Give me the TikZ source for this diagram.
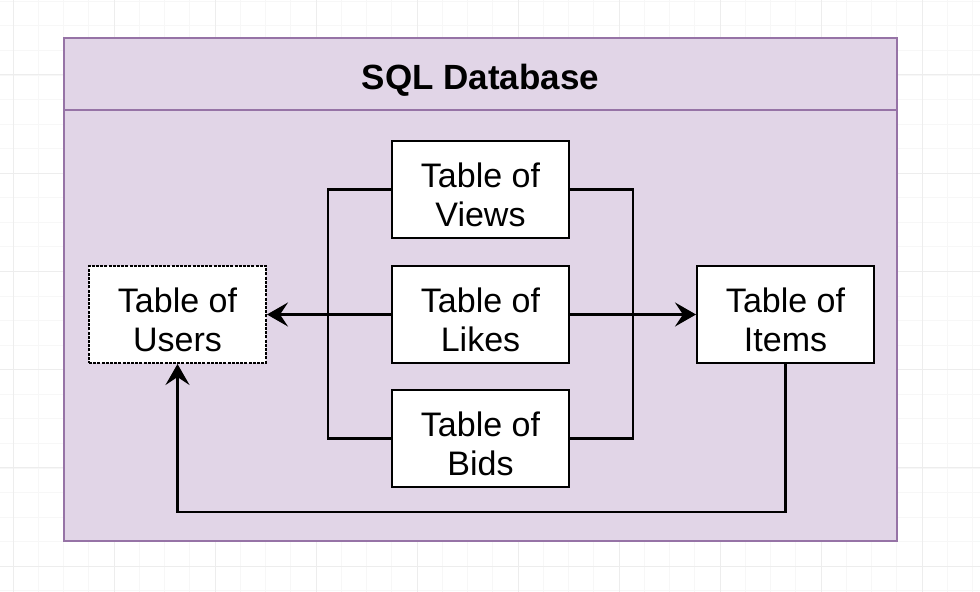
\documentclass[tikz,border=0pt]{standalone}
\usepackage{fontspec}
\setmainfont{Liberation Sans}
\usetikzlibrary{
  positioning,
  arrows.meta
}
\definecolor{dbfill}{HTML}{E1D5E7}
\definecolor{dbline}{HTML}{9673A6}
% first line gets a taller strut so the two lines sit a bit low, as in the drawing
\newcommand{\tableof}[1]{\rule{0pt}{17.5pt}Table of\\#1}

\begin{document}
\begin{tikzpicture}[x=0.5pt,y=-0.5pt]
  \tikzset{
    dbbox/.style = {
      draw=dbline, fill=dbfill, line width=1.1pt,
      minimum width=416.5pt, minimum height=251.5pt, inner sep=0pt
    },
    tablebox/.style = {
      draw, fill=white, line width=1pt, align=center,
      minimum width=88.5pt, minimum height=48.5pt, inner sep=0pt,
      font=\fontsize{17}{19.2}\selectfont
    },
    link/.style = {line width=1.2pt},
    tip/.style = {-{Stealth[length=10.5pt,width=12pt,inset=4pt]}},
    gridminor/.style = {black!3, line width=0.4pt},
    gridmajor/.style = {black!7, line width=0.5pt},
  }
  \useasboundingbox (0,0) rectangle (980,592);

  % faint canvas grid behind everything
  \foreach \i in {0,...,38}
  \draw[gridminor] (13+25.25*\i,0) -- ++(0,592);
  \foreach \i in {0,...,24}
  \draw[gridminor] (0,1.3+24.56*\i) -- ++(980,0);
  \foreach \i in {0,...,9}
  \draw[gridmajor] (13+101*\i,0) -- ++(0,592);
  \foreach \i in {0,...,5}
  \draw[gridmajor] (0,75+98.25*\i) -- ++(980,0);

  % container with its header band
  \node[dbbox] (db) at (480.5,289.5) {};
  \draw[dbline, line width=1.1pt]
  ([yshift=-36.5pt]db.north west) -- ([yshift=-36.5pt]db.north east);
  \node[font=\fontsize{17.5}{21}\selectfont\bfseries] (title)
  at ([yshift=-21.5pt]db.north) {SQL Database};

  \node[tablebox] (likes) at (480.5,314.5) {\tableof{Likes}};
  \node[tablebox, above=13pt of likes] (views) {\tableof{Views}};
  \node[tablebox, below=12.5pt of likes] (bids) {\tableof{Bids}};
  \node[tablebox, left=62pt of likes,
  dash pattern=on 1.5pt off 0.6pt] (users) {\tableof{Users}};
  \node[tablebox, right=63pt of likes] (items) {\tableof{Items}};

  % the two buses joining views and bids
  \draw[link] (views.west) -- ++(-63,0) |- (bids.west);
  \draw[link] (views.east) -- ++(63,0) |- (bids.east);

  \draw[link, tip] (likes.west) -- (users.east);
  \draw[link, tip] (likes.east) -- (items.west);
  \draw[link, tip] (items.south) -- ++(0,148) -| (users.south);
\end{tikzpicture}
\end{document}
